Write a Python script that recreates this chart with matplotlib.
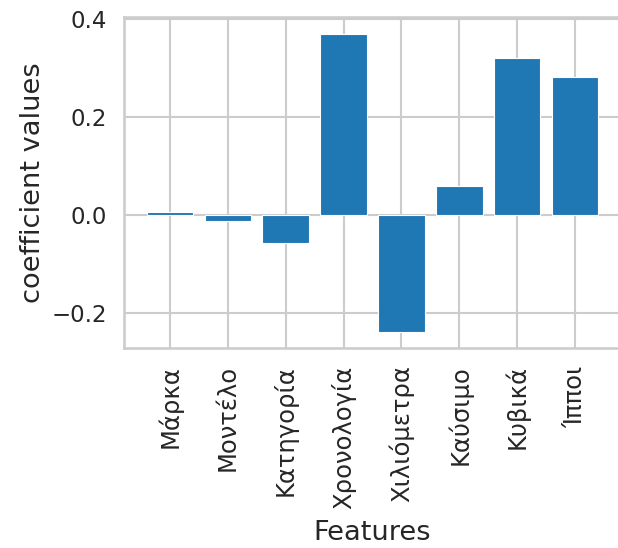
import matplotlib
matplotlib.use("Agg")
import matplotlib.pyplot as plt
import seaborn as sns

features = ["Μάρκα", "Μοντέλο", "Κατηγορία", "Χρονολογία",
            "Χιλιόμετρα", "Καύσιμο", "Κυβικά", "Ίπποι"]
coefficients = [0.006, -0.011, -0.056, 0.369, -0.239, 0.059, 0.320, 0.282]

sns.set_theme(style="whitegrid", context="talk")
plt.rcParams["font.family"] = ["DejaVu Sans"]

fig = plt.figure(figsize=(6.18, 5.48), dpi=100)
# the saved picture is clipped on the right, so the axes run slightly past the edge
ax = fig.add_axes([124 / 618, 200 / 548, 497 / 618, 331 / 548])

ax.bar(range(len(features)), coefficients, width=0.8,
       color="#1f77b4", edgecolor="white", linewidth=0.8)
ax.set_xticks(range(len(features)))
ax.set_xticklabels(features, rotation=90)
ax.set_xlim(-0.79, 7.79)
ax.set_ylim(-0.271, 0.404)
ax.set_yticks([-0.2, 0.0, 0.2, 0.4])
ax.tick_params(axis="x", labelsize=17.5)
ax.tick_params(axis="y", labelsize=16.5)
ax.set_xlabel("Features", fontsize=19.6, labelpad=8)
ax.set_ylabel("coefficient values", fontsize=19.6)

fig.savefig("out.png", dpi=100)
